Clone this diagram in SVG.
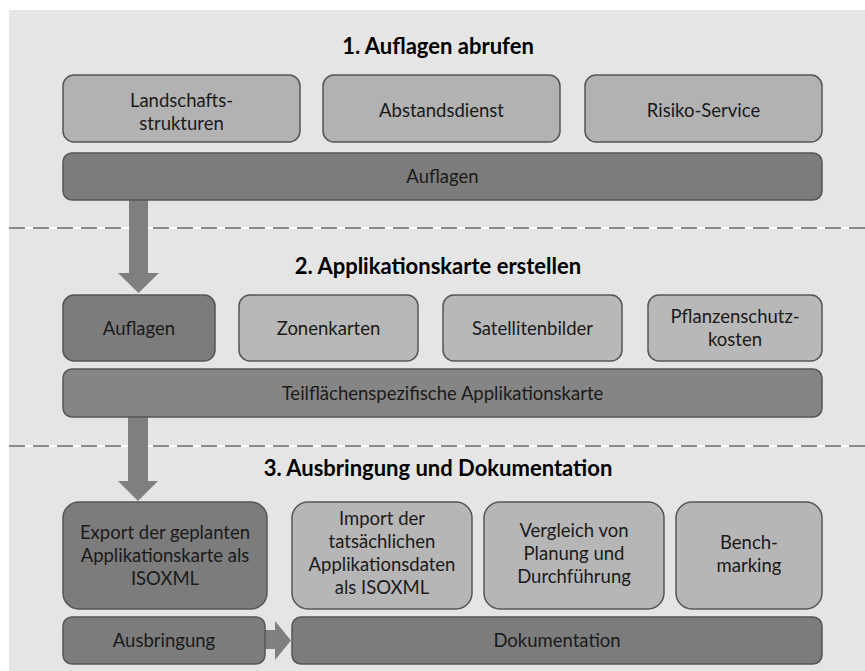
<svg xmlns="http://www.w3.org/2000/svg" width="865" height="671" viewBox="0 0 865 671">
<defs>
<style>
.bg{fill:#e5e5e5}
.box{stroke:#555555;stroke-width:1.5}
.l1{fill:#b2b2b2}
.l2{fill:#b8b8b8}
.l3{fill:#b6b6b6}
.d{fill:#7c7c7c}
.d2{fill:#858585}
text{font-family:Lato,"Liberation Sans",sans-serif;font-size:18.5px;fill:#1a1a1a;text-anchor:middle;dominant-baseline:central}
.t{font-weight:bold;font-size:22px;fill:#000}
.dash{stroke:#8a8a8a;stroke-width:2;stroke-dasharray:16 8}
.dashbg{stroke:#ffffff;stroke-width:2}
.arr{fill:#7f7f7f}
</style>
</defs>
<rect class="bg" x="9" y="10" width="856" height="661"/>
<g id="separators">
<line class="dashbg" x1="9" y1="228" x2="865" y2="228"/>
<line class="dash" x1="9" y1="228" x2="865" y2="228"/>
<line class="dashbg" x1="9" y1="446" x2="865" y2="446"/>
<line class="dash" x1="9" y1="446" x2="865" y2="446"/>
</g>
<g id="titles">
<text class="t" x="438" y="45">1. Auflagen abrufen</text>
<text class="t" x="438" y="265">2. Applikationskarte erstellen</text>
<text class="t" x="438" y="467">3. Ausbringung und Dokumentation</text>
</g>
<g id="connectors">
<polygon class="arr" points="129,200 148,200 148,273 159,273 138.5,293 118,273 129,273"/>
<polygon class="arr" points="128,417 148,417 148,481 158,481 138,501 118,481 128,481"/>
<polygon class="arr" points="265,630 275,630 275,621 291,640.5 275,660 275,649 265,649"/>
</g>
<g id="n_landschaft"><rect class="box l1" x="63" y="75" width="237" height="67" rx="11"/><text x="181.5" y="100">Landschafts-</text><text x="181.5" y="123">strukturen</text></g>
<g id="n_abstand"><rect class="box l1" x="323" y="75" width="237" height="67" rx="11"/><text x="441.5" y="110">Abstandsdienst</text></g>
<g id="n_risiko"><rect class="box l1" x="585" y="75" width="237" height="67" rx="11"/><text x="703.5" y="110">Risiko-Service</text></g>
<g id="n_auflagen1"><rect class="box d" x="63" y="153" width="759" height="47" rx="9"/><text x="442.5" y="176">Auflagen</text></g>
<g id="n_auflagen2"><rect class="box d" x="63" y="295" width="152" height="66" rx="11"/><text x="139" y="328">Auflagen</text></g>
<g id="n_zonen"><rect class="box l2" x="239" y="295" width="179" height="66" rx="11"/><text x="328.5" y="328">Zonenkarten</text></g>
<g id="n_sat"><rect class="box l2" x="443" y="295" width="179" height="66" rx="11"/><text x="532.5" y="328">Satellitenbilder</text></g>
<g id="n_pflanzen"><rect class="box l2" x="648" y="295" width="174" height="66" rx="11"/><text x="735" y="316">Pflanzenschutz-</text><text x="735" y="339">kosten</text></g>
<g id="n_karte"><rect class="box d2" x="63" y="369" width="759" height="48" rx="9"/><text x="442.5" y="393">Teilflächenspezifische Applikationskarte</text></g>
<g id="n_export"><rect class="box d" x="63" y="502" width="204" height="107" rx="16"/><text x="165" y="532">Export der geplanten</text><text x="165" y="555">Applikationskarte als</text><text x="165" y="578">ISOXML</text></g>
<g id="n_import"><rect class="box l3" x="292" y="502" width="180" height="107" rx="16"/><text x="382" y="518">Import der</text><text x="382" y="541">tatsächlichen</text><text x="382" y="564">Applikationsdaten</text><text x="382" y="587">als ISOXML</text></g>
<g id="n_vergleich"><rect class="box l3" x="484" y="502" width="180" height="107" rx="16"/><text x="574" y="530">Vergleich von</text><text x="574" y="553">Planung und</text><text x="574" y="576">Durchführung</text></g>
<g id="n_bench"><rect class="box l3" x="676" y="502" width="146" height="107" rx="16"/><text x="749" y="542">Bench-</text><text x="749" y="565">marking</text></g>
<g id="n_ausbringung"><rect class="box d" x="63" y="617" width="202" height="47" rx="9"/><text x="164" y="640">Ausbringung</text></g>
<g id="n_doku"><rect class="box d" x="292" y="617" width="530" height="47" rx="9"/><text x="557" y="640">Dokumentation</text></g>
</svg>
